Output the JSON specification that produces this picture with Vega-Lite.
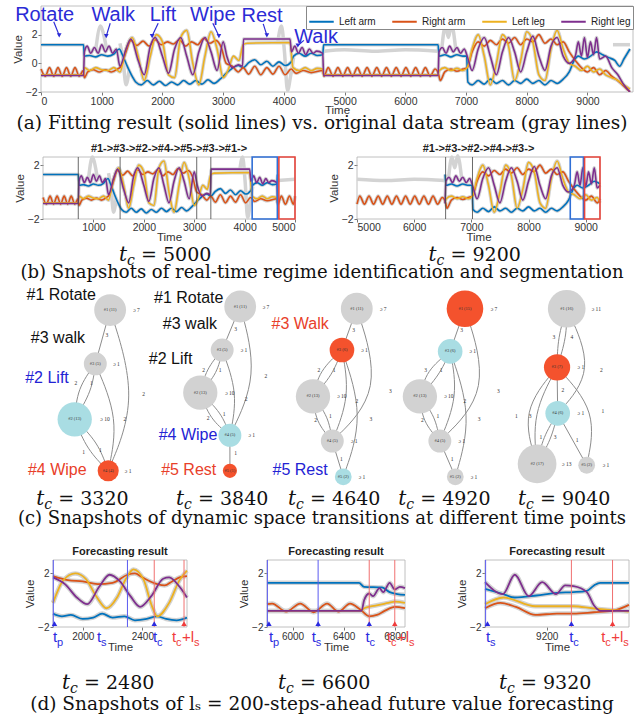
{
"$schema":"https://vega.github.io/schema/vega-lite/v6.json",
"padding":{"left":0,"top":4,"right":0,"bottom":0},
"background":"white",
"config":{"font":"Liberation Sans","view":{"stroke":null},
"axis":{"grid":false,"domain":false,"labelFont":"Liberation Sans","labelFontSize":10.5,"labelColor":"#333","titleFont":"Liberation Sans","titleFontSize":11.5,"titleFontWeight":"normal","titleColor":"#333","tickColor":"#777","tickSize":3,"labelPadding":1,"titlePadding":2,"format":"d"}},
"datasets":{
"main":[
{"s":"LA","t":0,"v":1.3},{"s":"LA","t":700,"v":1.3},{"s":"LA","t":715,"v":0.5},{"s":"LA","t":800,"v":0.55},{"s":"LA","t":900,"v":0.45},{"s":"LA","t":1000,"v":0.6},{"s":"LA","t":1100,"v":0.5},{"s":"LA","t":1200,"v":0.65},{"s":"LA","t":1290,"v":1.0},{"s":"LA","t":1340,"v":0.6},{"s":"LA","t":1420,"v":-0.2},{"s":"LA","t":1500,"v":-0.9},{"s":"LA","t":1560,"v":-1.3},{"s":"LA","t":1650,"v":-1.5},{"s":"LA","t":1750,"v":-1.2},{"s":"LA","t":1850,"v":-1.5},{"s":"LA","t":1950,"v":-1.25},{"s":"LA","t":2050,"v":-1.55},{"s":"LA","t":2150,"v":-1.3},{"s":"LA","t":2250,"v":-1.5},{"s":"LA","t":2350,"v":-1.2},{"s":"LA","t":2450,"v":-1.45},{"s":"LA","t":2550,"v":-1.2},{"s":"LA","t":2650,"v":-1.45},{"s":"LA","t":2750,"v":-1.15},{"s":"LA","t":2850,"v":-1.4},{"s":"LA","t":2950,"v":-1.1},{"s":"LA","t":3050,"v":-0.7},{"s":"LA","t":3150,"v":-0.35},{"s":"LA","t":3250,"v":-0.15},{"s":"LA","t":3330,"v":-0.3},{"s":"LA","t":3420,"v":0.05},{"s":"LA","t":3520,"v":0.25},{"s":"LA","t":3620,"v":-0.1},{"s":"LA","t":3720,"v":0.15},{"s":"LA","t":3820,"v":-0.2},{"s":"LA","t":3920,"v":0.1},{"s":"LA","t":4020,"v":-0.15},{"s":"LA","t":4120,"v":0.1},{"s":"LA","t":4160,"v":0.5},{"s":"LA","t":4250,"v":0.7},{"s":"LA","t":4350,"v":0.5},{"s":"LA","t":4450,"v":0.7},{"s":"LA","t":4550,"v":0.55},{"s":"LA","t":4640,"v":0.6},{"s":"LA","t":4655,"v":1.3},{"s":"LA","t":6540,"v":1.3},{"s":"LA","t":6555,"v":0.5},{"s":"LA","t":6650,"v":0.6},{"s":"LA","t":6750,"v":0.45},{"s":"LA","t":6850,"v":0.6},{"s":"LA","t":6950,"v":0.5},{"s":"LA","t":7010,"v":0.5},{"s":"LA","t":7030,"v":-1.3},{"s":"LA","t":7100,"v":-1.5},{"s":"LA","t":7200,"v":-1.2},{"s":"LA","t":7300,"v":-1.45},{"s":"LA","t":7400,"v":-1.1},{"s":"LA","t":7500,"v":-1.4},{"s":"LA","t":7600,"v":-1.2},{"s":"LA","t":7700,"v":-1.5},{"s":"LA","t":7800,"v":-1.2},{"s":"LA","t":7900,"v":-1.4},{"s":"LA","t":8000,"v":-1.1},{"s":"LA","t":8100,"v":-1.4},{"s":"LA","t":8200,"v":-1.2},{"s":"LA","t":8300,"v":-1.5},{"s":"LA","t":8400,"v":-1.2},{"s":"LA","t":8500,"v":-1.4},{"s":"LA","t":8600,"v":-1.1},{"s":"LA","t":8700,"v":-0.6},{"s":"LA","t":8780,"v":0.2},{"s":"LA","t":8850,"v":0.5},{"s":"LA","t":8950,"v":0.3},{"s":"LA","t":9050,"v":0.5},{"s":"LA","t":9150,"v":0.8},{"s":"LA","t":9250,"v":0.6},{"s":"LA","t":9350,"v":0.4},{"s":"LA","t":9450,"v":0.2},{"s":"LA","t":9530,"v":-0.2},{"s":"LA","t":9600,"v":0.3},{"s":"LA","t":9700,"v":1.0},
{"s":"RA","t":0,"v":-0.4},{"s":"RA","t":70,"v":-0.9},{"s":"RA","t":140,"v":-0.3},{"s":"RA","t":210,"v":-0.9},{"s":"RA","t":280,"v":-0.3},{"s":"RA","t":350,"v":-0.9},{"s":"RA","t":420,"v":-0.3},{"s":"RA","t":490,"v":-0.9},{"s":"RA","t":560,"v":-0.3},{"s":"RA","t":630,"v":-0.9},{"s":"RA","t":695,"v":-0.5},{"s":"RA","t":715,"v":-1.0},{"s":"RA","t":770,"v":-0.6},{"s":"RA","t":860,"v":-0.45},{"s":"RA","t":960,"v":-0.6},{"s":"RA","t":1060,"v":-0.45},{"s":"RA","t":1160,"v":-0.6},{"s":"RA","t":1260,"v":-0.4},{"s":"RA","t":1320,"v":-0.2},{"s":"RA","t":1400,"v":0.8},{"s":"RA","t":1480,"v":1.6},{"s":"RA","t":1580,"v":1.25},{"s":"RA","t":1680,"v":1.55},{"s":"RA","t":1780,"v":1.2},{"s":"RA","t":1880,"v":1.65},{"s":"RA","t":1980,"v":1.3},{"s":"RA","t":2080,"v":1.5},{"s":"RA","t":2180,"v":1.35},{"s":"RA","t":2280,"v":1.65},{"s":"RA","t":2380,"v":1.2},{"s":"RA","t":2480,"v":1.5},{"s":"RA","t":2580,"v":1.3},{"s":"RA","t":2680,"v":1.75},{"s":"RA","t":2780,"v":1.4},{"s":"RA","t":2880,"v":1.6},{"s":"RA","t":2970,"v":1.1},{"s":"RA","t":3050,"v":0.0},{"s":"RA","t":3150,"v":-0.2},{"s":"RA","t":3250,"v":-0.6},{"s":"RA","t":3330,"v":-0.3},{"s":"RA","t":3420,"v":-0.75},{"s":"RA","t":3520,"v":-0.2},{"s":"RA","t":3620,"v":-0.8},{"s":"RA","t":3720,"v":-0.3},{"s":"RA","t":3820,"v":-0.75},{"s":"RA","t":3920,"v":-0.2},{"s":"RA","t":4020,"v":-0.8},{"s":"RA","t":4120,"v":-0.4},{"s":"RA","t":4200,"v":-0.7},{"s":"RA","t":4320,"v":-0.5},{"s":"RA","t":4450,"v":-0.65},{"s":"RA","t":4640,"v":-0.5},{"s":"RA","t":4660,"v":-0.9},{"s":"RA","t":4730,"v":-0.3},{"s":"RA","t":4810,"v":-0.9},{"s":"RA","t":4890,"v":-0.3},{"s":"RA","t":4970,"v":-0.9},{"s":"RA","t":5050,"v":-0.3},{"s":"RA","t":5130,"v":-0.9},{"s":"RA","t":5210,"v":-0.3},{"s":"RA","t":5290,"v":-0.9},{"s":"RA","t":5370,"v":-0.3},{"s":"RA","t":5450,"v":-0.9},{"s":"RA","t":5530,"v":-0.3},{"s":"RA","t":5610,"v":-0.9},{"s":"RA","t":5690,"v":-0.3},{"s":"RA","t":5770,"v":-0.9},{"s":"RA","t":5850,"v":-0.3},{"s":"RA","t":5930,"v":-0.9},{"s":"RA","t":6010,"v":-0.3},{"s":"RA","t":6090,"v":-0.9},{"s":"RA","t":6170,"v":-0.3},{"s":"RA","t":6250,"v":-0.9},{"s":"RA","t":6330,"v":-0.3},{"s":"RA","t":6410,"v":-0.9},{"s":"RA","t":6490,"v":-0.4},{"s":"RA","t":6550,"v":-0.8},{"s":"RA","t":6575,"v":-1.2},{"s":"RA","t":6650,"v":-0.6},{"s":"RA","t":6750,"v":-0.4},{"s":"RA","t":6850,"v":-0.55},{"s":"RA","t":6950,"v":-0.4},{"s":"RA","t":7020,"v":-0.3},{"s":"RA","t":7100,"v":0.8},{"s":"RA","t":7200,"v":1.5},{"s":"RA","t":7300,"v":1.2},{"s":"RA","t":7400,"v":1.6},{"s":"RA","t":7500,"v":1.3},{"s":"RA","t":7600,"v":1.7},{"s":"RA","t":7700,"v":1.4},{"s":"RA","t":7800,"v":1.8},{"s":"RA","t":7900,"v":1.3},{"s":"RA","t":8000,"v":1.7},{"s":"RA","t":8100,"v":1.5},{"s":"RA","t":8200,"v":2.0},{"s":"RA","t":8300,"v":1.4},{"s":"RA","t":8400,"v":1.7},{"s":"RA","t":8500,"v":1.3},{"s":"RA","t":8600,"v":1.5},{"s":"RA","t":8700,"v":0.8},{"s":"RA","t":8800,"v":0.2},{"s":"RA","t":8900,"v":-0.3},{"s":"RA","t":9000,"v":-0.6},{"s":"RA","t":9100,"v":-0.3},{"s":"RA","t":9200,"v":-0.8},{"s":"RA","t":9300,"v":-0.5},{"s":"RA","t":9400,"v":-0.9},{"s":"RA","t":9500,"v":-1.2},{"s":"RA","t":9600,"v":-1.6},{"s":"RA","t":9700,"v":-2.0},
{"s":"LL","t":0,"v":-0.8},{"s":"LL","t":700,"v":-0.8},{"s":"LL","t":715,"v":-0.3},{"s":"LL","t":800,"v":-0.5},{"s":"LL","t":900,"v":-0.3},{"s":"LL","t":1000,"v":-0.45},{"s":"LL","t":1100,"v":-0.5},{"s":"LL","t":1200,"v":-0.3},{"s":"LL","t":1300,"v":-0.6},{"s":"LL","t":1400,"v":1.0},{"s":"LL","t":1500,"v":1.8},{"s":"LL","t":1600,"v":0.5},{"s":"LL","t":1700,"v":-1.2},{"s":"LL","t":1800,"v":0.5},{"s":"LL","t":1900,"v":2.0},{"s":"LL","t":2000,"v":1.5},{"s":"LL","t":2100,"v":-0.8},{"s":"LL","t":2200,"v":-1.0},{"s":"LL","t":2300,"v":1.8},{"s":"LL","t":2400,"v":2.3},{"s":"LL","t":2500,"v":0.0},{"s":"LL","t":2600,"v":-1.5},{"s":"LL","t":2700,"v":0.5},{"s":"LL","t":2800,"v":2.2},{"s":"LL","t":2900,"v":1.0},{"s":"LL","t":3000,"v":-1.0},{"s":"LL","t":3080,"v":-0.5},{"s":"LL","t":3170,"v":0.5},{"s":"LL","t":3260,"v":0.2},{"s":"LL","t":3330,"v":1.3},{"s":"LL","t":3400,"v":1.4},{"s":"LL","t":4100,"v":1.45},{"s":"LL","t":4150,"v":-0.3},{"s":"LL","t":4250,"v":-0.5},{"s":"LL","t":4350,"v":-0.3},{"s":"LL","t":4450,"v":-0.5},{"s":"LL","t":4550,"v":-0.35},{"s":"LL","t":4640,"v":-0.4},{"s":"LL","t":4655,"v":-0.8},{"s":"LL","t":6540,"v":-0.8},{"s":"LL","t":6560,"v":-0.5},{"s":"LL","t":6650,"v":-0.3},{"s":"LL","t":6750,"v":-0.5},{"s":"LL","t":6850,"v":-0.35},{"s":"LL","t":6950,"v":-0.5},{"s":"LL","t":7020,"v":-0.3},{"s":"LL","t":7100,"v":1.0},{"s":"LL","t":7200,"v":2.0},{"s":"LL","t":7300,"v":0.5},{"s":"LL","t":7400,"v":-1.5},{"s":"LL","t":7500,"v":0.0},{"s":"LL","t":7600,"v":2.0},{"s":"LL","t":7700,"v":1.2},{"s":"LL","t":7800,"v":-1.2},{"s":"LL","t":7900,"v":0.2},{"s":"LL","t":8000,"v":2.2},{"s":"LL","t":8100,"v":1.5},{"s":"LL","t":8200,"v":-0.8},{"s":"LL","t":8300,"v":-1.2},{"s":"LL","t":8400,"v":1.0},{"s":"LL","t":8500,"v":2.3},{"s":"LL","t":8600,"v":1.0},{"s":"LL","t":8700,"v":0.0},{"s":"LL","t":8800,"v":-0.2},{"s":"LL","t":8900,"v":-0.5},{"s":"LL","t":9000,"v":-0.2},{"s":"LL","t":9100,"v":-0.6},{"s":"LL","t":9200,"v":-0.4},{"s":"LL","t":9300,"v":-0.8},{"s":"LL","t":9400,"v":-1.0},{"s":"LL","t":9500,"v":-1.2},{"s":"LL","t":9600,"v":-1.5},{"s":"LL","t":9700,"v":-1.8},
{"s":"RL","t":0,"v":-0.85},{"s":"RL","t":700,"v":-0.85},{"s":"RL","t":715,"v":0.8},{"s":"RL","t":760,"v":1.2},{"s":"RL","t":820,"v":0.7},{"s":"RL","t":880,"v":1.1},{"s":"RL","t":940,"v":0.7},{"s":"RL","t":1000,"v":1.3},{"s":"RL","t":1060,"v":0.8},{"s":"RL","t":1120,"v":1.2},{"s":"RL","t":1180,"v":0.7},{"s":"RL","t":1240,"v":1.0},{"s":"RL","t":1300,"v":-0.2},{"s":"RL","t":1400,"v":1.0},{"s":"RL","t":1480,"v":1.7},{"s":"RL","t":1600,"v":0.2},{"s":"RL","t":1700,"v":-0.8},{"s":"RL","t":1800,"v":1.2},{"s":"RL","t":1880,"v":1.8},{"s":"RL","t":2000,"v":0.5},{"s":"RL","t":2100,"v":-0.7},{"s":"RL","t":2200,"v":1.0},{"s":"RL","t":2300,"v":1.8},{"s":"RL","t":2400,"v":0.5},{"s":"RL","t":2500,"v":-0.8},{"s":"RL","t":2600,"v":0.8},{"s":"RL","t":2700,"v":1.8},{"s":"RL","t":2800,"v":0.8},{"s":"RL","t":2900,"v":-0.5},{"s":"RL","t":3000,"v":1.5},{"s":"RL","t":3060,"v":0.5},{"s":"RL","t":3150,"v":-0.3},{"s":"RL","t":3250,"v":-0.1},{"s":"RL","t":3320,"v":-0.2},{"s":"RL","t":3335,"v":1.7},{"s":"RL","t":4100,"v":1.7},{"s":"RL","t":4125,"v":0.8},{"s":"RL","t":4180,"v":1.2},{"s":"RL","t":4240,"v":0.7},{"s":"RL","t":4300,"v":1.1},{"s":"RL","t":4360,"v":0.6},{"s":"RL","t":4420,"v":1.0},{"s":"RL","t":4480,"v":0.7},{"s":"RL","t":4540,"v":0.85},{"s":"RL","t":4640,"v":0.7},{"s":"RL","t":4655,"v":-0.85},{"s":"RL","t":6540,"v":-0.85},{"s":"RL","t":6555,"v":0.8},{"s":"RL","t":6610,"v":1.1},{"s":"RL","t":6670,"v":0.7},{"s":"RL","t":6730,"v":1.2},{"s":"RL","t":6790,"v":0.8},{"s":"RL","t":6850,"v":1.1},{"s":"RL","t":6910,"v":0.7},{"s":"RL","t":6970,"v":1.0},{"s":"RL","t":7020,"v":0.5},{"s":"RL","t":7100,"v":-0.5},{"s":"RL","t":7200,"v":1.0},{"s":"RL","t":7300,"v":1.8},{"s":"RL","t":7400,"v":0.5},{"s":"RL","t":7500,"v":-0.8},{"s":"RL","t":7600,"v":0.8},{"s":"RL","t":7700,"v":1.8},{"s":"RL","t":7800,"v":0.8},{"s":"RL","t":7900,"v":-0.6},{"s":"RL","t":8000,"v":0.8},{"s":"RL","t":8100,"v":1.9},{"s":"RL","t":8200,"v":0.5},{"s":"RL","t":8300,"v":-0.5},{"s":"RL","t":8400,"v":1.2},{"s":"RL","t":8500,"v":1.8},{"s":"RL","t":8600,"v":0.5},{"s":"RL","t":8700,"v":0.0},{"s":"RL","t":8800,"v":0.5},{"s":"RL","t":8850,"v":1.5},{"s":"RL","t":8900,"v":0.5},{"s":"RL","t":8950,"v":1.8},{"s":"RL","t":9000,"v":0.4},{"s":"RL","t":9050,"v":1.5},{"s":"RL","t":9100,"v":0.6},{"s":"RL","t":9150,"v":1.8},{"s":"RL","t":9200,"v":0.3},{"s":"RL","t":9300,"v":0.5},{"s":"RL","t":9400,"v":-0.3},{"s":"RL","t":9500,"v":-0.8},{"s":"RL","t":9600,"v":-1.5},{"s":"RL","t":9700,"v":-2.0}
],
"gx":[
{"g":"a","t":4660,"v":0.85},{"g":"a","t":5000,"v":0.95},{"g":"a","t":5500,"v":0.85},{"g":"a","t":6000,"v":0.95},{"g":"a","t":6540,"v":0.85},
{"g":"b","t":900,"v":0.9},{"g":"b","t":980,"v":2.6},{"g":"b","t":1020,"v":2.2},{"g":"b","t":1080,"v":1.0},
{"g":"c","t":3900,"v":1.5},{"g":"c","t":3960,"v":2.6},{"g":"c","t":4010,"v":0.8},{"g":"c","t":4060,"v":-1.9},{"g":"c","t":4110,"v":-0.9},{"g":"c","t":4160,"v":0.4},
{"g":"d","t":6600,"v":1.0},{"g":"d","t":6660,"v":2.6},{"g":"d","t":6710,"v":1.8},{"g":"d","t":6760,"v":2.7},{"g":"d","t":6830,"v":1.0},
{"g":"e","t":9420,"v":1.3},{"g":"e","t":9700,"v":1.3},
{"g":"f","t":1300,"v":1.4},{"g":"f","t":1350,"v":0.3},{"g":"f","t":1400,"v":-1.5},{"g":"f","t":1450,"v":-0.5}
],
"ann":[
{"label":"Rotate","lx":60,"ly":3.4,"ax":210,"ay":2.9,"bx":300,"by":1.95},
{"label":"Walk","lx":1190,"ly":3.4,"ax":1140,"ay":2.8,"bx":1075,"by":1.9},
{"label":"Lift","lx":2010,"ly":3.4,"ax":1930,"ay":2.8,"bx":1830,"by":1.9},
{"label":"Wipe","lx":2830,"ly":3.4,"ax":2830,"ay":2.8,"bx":2930,"by":1.9},
{"label":"Rest","lx":3640,"ly":3.3,"ax":3660,"ay":2.75,"bx":3720,"by":1.95},
{"label":"Walk","lx":4530,"ly":1.85,"ax":4330,"ay":1.6,"bx":4230,"by":1.25}
],
"fc":[
{"p":"d1","s":"LA","t":1800,"v":-1.0},{"p":"d1","s":"LA","t":1860,"v":-1.2},{"p":"d1","s":"LA","t":1920,"v":-1.1},{"p":"d1","s":"LA","t":2000,"v":-1.4},{"p":"d1","s":"LA","t":2070,"v":-1.3},{"p":"d1","s":"LA","t":2130,"v":-1.0},{"p":"d1","s":"LA","t":2200,"v":-1.3},{"p":"d1","s":"LA","t":2280,"v":-1.2},{"p":"d1","s":"LA","t":2350,"v":-1.5},{"p":"d1","s":"LA","t":2430,"v":-1.4},{"p":"d1","s":"LA","t":2500,"v":-1.2},{"p":"d1","s":"LA","t":2560,"v":-1.4},{"p":"d1","s":"LA","t":2630,"v":-1.5},{"p":"d1","s":"LA","t":2700,"v":-1.3},
{"p":"d1","s":"RA","t":1800,"v":1.8},{"p":"d1","s":"RA","t":1900,"v":1.5},{"p":"d1","s":"RA","t":2000,"v":1.4},{"p":"d1","s":"RA","t":2100,"v":1.2},{"p":"d1","s":"RA","t":2200,"v":1.3},{"p":"d1","s":"RA","t":2300,"v":1.9},{"p":"d1","s":"RA","t":2350,"v":2.0},{"p":"d1","s":"RA","t":2400,"v":1.7},{"p":"d1","s":"RA","t":2500,"v":1.2},{"p":"d1","s":"RA","t":2550,"v":1.1},{"p":"d1","s":"RA","t":2600,"v":1.4},{"p":"d1","s":"RA","t":2650,"v":1.7},{"p":"d1","s":"RA","t":2700,"v":1.8},
{"p":"d1","s":"LL","t":1800,"v":-0.2},{"p":"d1","s":"LL","t":1870,"v":1.5},{"p":"d1","s":"LL","t":1950,"v":2.0},{"p":"d1","s":"LL","t":2020,"v":1.6},{"p":"d1","s":"LL","t":2090,"v":0.3},{"p":"d1","s":"LL","t":2160,"v":-0.6},{"p":"d1","s":"LL","t":2230,"v":0.2},{"p":"d1","s":"LL","t":2290,"v":1.6},{"p":"d1","s":"LL","t":2340,"v":2.3},{"p":"d1","s":"LL","t":2410,"v":1.5},{"p":"d1","s":"LL","t":2460,"v":-0.3},{"p":"d1","s":"LL","t":2500,"v":-1.2},{"p":"d1","s":"LL","t":2580,"v":-0.2},{"p":"d1","s":"LL","t":2650,"v":1.5},{"p":"d1","s":"LL","t":2700,"v":2.2},
{"p":"d1","s":"RL","t":1800,"v":1.7},{"p":"d1","s":"RL","t":1880,"v":1.2},{"p":"d1","s":"RL","t":1960,"v":0.2},{"p":"d1","s":"RL","t":2030,"v":-0.3},{"p":"d1","s":"RL","t":2110,"v":1.0},{"p":"d1","s":"RL","t":2180,"v":1.9},{"p":"d1","s":"RL","t":2250,"v":1.4},{"p":"d1","s":"RL","t":2320,"v":0.3},{"p":"d1","s":"RL","t":2385,"v":-0.5},{"p":"d1","s":"RL","t":2460,"v":0.3},{"p":"d1","s":"RL","t":2540,"v":1.6},{"p":"d1","s":"RL","t":2580,"v":1.7},{"p":"d1","s":"RL","t":2650,"v":1.0},{"p":"d1","s":"RL","t":2700,"v":0.2},
{"p":"d2","s":"LA","t":5800,"v":1.3},{"p":"d2","s":"LA","t":6520,"v":1.3},{"p":"d2","s":"LA","t":6560,"v":1.0},{"p":"d2","s":"LA","t":6700,"v":0.95},{"p":"d2","s":"LA","t":6760,"v":0.6},{"p":"d2","s":"LA","t":6820,"v":0.45},{"p":"d2","s":"LA","t":6880,"v":0.4},
{"p":"d2","s":"RA","t":5800,"v":-0.3},{"p":"d2","s":"RA","t":5840,"v":-0.25},{"p":"d2","s":"RA","t":5950,"v":-0.85},{"p":"d2","s":"RA","t":6060,"v":-0.25},{"p":"d2","s":"RA","t":6165,"v":-0.9},{"p":"d2","s":"RA","t":6270,"v":-0.25},{"p":"d2","s":"RA","t":6360,"v":-0.85},{"p":"d2","s":"RA","t":6450,"v":-0.25},{"p":"d2","s":"RA","t":6530,"v":-0.7},{"p":"d2","s":"RA","t":6600,"v":-1.2},{"p":"d2","s":"RA","t":6660,"v":-1.1},{"p":"d2","s":"RA","t":6720,"v":-0.8},{"p":"d2","s":"RA","t":6800,"v":-0.5},{"p":"d2","s":"RA","t":6880,"v":-0.6},
{"p":"d2","s":"LL","t":5800,"v":-0.8},{"p":"d2","s":"LL","t":6540,"v":-0.8},{"p":"d2","s":"LL","t":6560,"v":-0.6},{"p":"d2","s":"LL","t":6650,"v":-0.4},{"p":"d2","s":"LL","t":6750,"v":-0.2},{"p":"d2","s":"LL","t":6800,"v":-0.1},{"p":"d2","s":"LL","t":6880,"v":-0.2},
{"p":"d2","s":"RL","t":5800,"v":-0.8},{"p":"d2","s":"RL","t":6540,"v":-0.8},{"p":"d2","s":"RL","t":6560,"v":0.0},{"p":"d2","s":"RL","t":6600,"v":0.5},{"p":"d2","s":"RL","t":6630,"v":0.3},{"p":"d2","s":"RL","t":6680,"v":0.9},{"p":"d2","s":"RL","t":6710,"v":0.6},{"p":"d2","s":"RL","t":6760,"v":1.3},{"p":"d2","s":"RL","t":6800,"v":0.8},{"p":"d2","s":"RL","t":6840,"v":1.0},{"p":"d2","s":"RL","t":6880,"v":0.9},
{"p":"d3","s":"LA","t":8900,"v":0.85},{"p":"d3","s":"LA","t":8980,"v":0.5},{"p":"d3","s":"LA","t":9045,"v":0.2},{"p":"d3","s":"LA","t":9150,"v":0.35},{"p":"d3","s":"LA","t":9250,"v":0.55},{"p":"d3","s":"LA","t":9330,"v":0.6},{"p":"d3","s":"LA","t":9395,"v":0.7},{"p":"d3","s":"LA","t":9430,"v":1.1},{"p":"d3","s":"LA","t":9460,"v":1.3},{"p":"d3","s":"LA","t":9600,"v":1.3},
{"p":"d3","s":"RA","t":8900,"v":-0.6},{"p":"d3","s":"RA","t":8975,"v":-0.2},{"p":"d3","s":"RA","t":9050,"v":-0.5},{"p":"d3","s":"RA","t":9145,"v":-1.1},{"p":"d3","s":"RA","t":9250,"v":-1.0},{"p":"d3","s":"RA","t":9330,"v":-1.0},{"p":"d3","s":"RA","t":9430,"v":-0.9},{"p":"d3","s":"RA","t":9520,"v":-0.8},{"p":"d3","s":"RA","t":9600,"v":-0.35},
{"p":"d3","s":"LL","t":8900,"v":-0.3},{"p":"d3","s":"LL","t":8990,"v":0.2},{"p":"d3","s":"LL","t":9145,"v":-0.45},{"p":"d3","s":"LL","t":9330,"v":-0.45},{"p":"d3","s":"LL","t":9420,"v":-0.6},{"p":"d3","s":"LL","t":9600,"v":-0.85},
{"p":"d3","s":"RL","t":8900,"v":1.35},{"p":"d3","s":"RL","t":8987,"v":0.45},{"p":"d3","s":"RL","t":9045,"v":1.9},{"p":"d3","s":"RL","t":9112,"v":0.3},{"p":"d3","s":"RL","t":9178,"v":1.35},{"p":"d3","s":"RL","t":9245,"v":0.45},{"p":"d3","s":"RL","t":9290,"v":1.1},{"p":"d3","s":"RL","t":9330,"v":1.05},{"p":"d3","s":"RL","t":9395,"v":0.6},{"p":"d3","s":"RL","t":9430,"v":-0.4},{"p":"d3","s":"RL","t":9462,"v":-0.8},{"p":"d3","s":"RL","t":9600,"v":-0.8}
],
"nodes":[
{"id":"#1 (11)","x":17.1,"y":11.3,"n":11,"st":"none"},{"id":"#3 (5)","x":14.8,"y":35.5,"n":5,"st":"none"},{"id":"#2 (13)","x":11.6,"y":60.5,"n":13,"st":"next"},{"id":"#4 (4)","x":16.8,"y":83.7,"n":4,"st":"cur"},
{"id":"#1 (11)","x":37.3,"y":9.7,"n":11,"st":"none"},{"id":"#3 (5)","x":34.5,"y":29.3,"n":5,"st":"none"},{"id":"#2 (13)","x":31.1,"y":48.5,"n":13,"st":"none"},{"id":"#4 (5)","x":35.7,"y":67.7,"n":5,"st":"next"},{"id":"#5 (1)","x":35.7,"y":83.7,"n":1,"st":"cur"},
{"id":"#1 (11)","x":55.4,"y":10.7,"n":11,"st":"none"},{"id":"#3 (6)","x":53.1,"y":29.3,"n":6,"st":"cur"},{"id":"#2 (13)","x":48.6,"y":50.2,"n":13,"st":"none"},{"id":"#4 (5)","x":51.6,"y":70.3,"n":5,"st":"none"},{"id":"#5 (2)","x":53.3,"y":86.4,"n":2,"st":"next"},
{"id":"#1 (15)","x":72.2,"y":10.7,"n":15,"st":"cur"},{"id":"#3 (6)","x":69.9,"y":29.9,"n":6,"st":"next"},{"id":"#2 (13)","x":65.2,"y":50.2,"n":13,"st":"none"},{"id":"#4 (5)","x":68.3,"y":70.3,"n":5,"st":"none"},{"id":"#5 (2)","x":70.7,"y":86.4,"n":2,"st":"none"},
{"id":"#1 (16)","x":88.0,"y":10.7,"n":16,"st":"none"},{"id":"#3 (7)","x":86.5,"y":37.1,"n":7,"st":"cur"},{"id":"#4 (6)","x":86.6,"y":57.8,"n":6,"st":"next"},{"id":"#2 (17)","x":83.4,"y":80.6,"n":17,"st":"none"},{"id":"#5 (2)","x":91.1,"y":81.2,"n":2,"st":"none"}
],
"edges":[
{"e":"1a","o":0,"x":17.1,"y":11.3},{"e":"1a","o":1,"x":14.8,"y":35.5},
{"e":"1b","o":0,"x":17.1,"y":11.3},{"e":"1b","o":1,"x":21.5,"y":51.2},{"e":"1b","o":2,"x":16.8,"y":83.7},
{"e":"1c","o":0,"x":14.8,"y":35.5},{"e":"1c","o":1,"x":12.0,"y":46.6},{"e":"1c","o":2,"x":11.6,"y":60.5},
{"e":"1d","o":0,"x":14.8,"y":35.5},{"e":"1d","o":1,"x":14.3,"y":47.7},{"e":"1d","o":2,"x":11.6,"y":60.5},
{"e":"1e","o":0,"x":14.8,"y":35.5},{"e":"1e","o":1,"x":18.5,"y":60.4},{"e":"1e","o":2,"x":16.8,"y":83.7},
{"e":"1f","o":0,"x":11.6,"y":60.5},{"e":"1f","o":1,"x":13.5,"y":74.2},{"e":"1f","o":2,"x":16.8,"y":83.7},
{"e":"1g","o":0,"x":11.6,"y":60.5},{"e":"1g","o":1,"x":15.2,"y":70.7},{"e":"1g","o":2,"x":16.8,"y":83.7},
{"e":"2a","o":0,"x":37.3,"y":9.7},{"e":"2a","o":1,"x":34.5,"y":29.3},
{"e":"2b","o":0,"x":37.3,"y":9.7},{"e":"2b","o":1,"x":40.2,"y":40.8},{"e":"2b","o":2,"x":35.7,"y":67.7},
{"e":"2c","o":0,"x":34.5,"y":29.3},{"e":"2c","o":1,"x":32.0,"y":37.9},{"e":"2c","o":2,"x":31.1,"y":48.5},
{"e":"2d","o":0,"x":34.5,"y":29.3},{"e":"2d","o":1,"x":33.8,"y":39.7},{"e":"2d","o":2,"x":31.1,"y":48.5},
{"e":"2e","o":0,"x":34.5,"y":29.3},{"e":"2e","o":1,"x":37.0,"y":48.9},{"e":"2e","o":2,"x":35.7,"y":67.7},
{"e":"2f","o":0,"x":31.1,"y":48.5},{"e":"2f","o":1,"x":32.6,"y":60.4},{"e":"2f","o":2,"x":35.7,"y":67.7},
{"e":"2g","o":0,"x":31.1,"y":48.5},{"e":"2g","o":1,"x":34.4,"y":57.5},{"e":"2g","o":2,"x":35.7,"y":67.7},
{"e":"2h","o":0,"x":35.7,"y":67.7},{"e":"2h","o":1,"x":35.7,"y":83.7},
{"e":"3a","o":0,"x":55.4,"y":10.7},{"e":"3a","o":1,"x":53.1,"y":29.3},
{"e":"3b","o":0,"x":55.4,"y":10.7},{"e":"3b","o":1,"x":59.5,"y":47.7},{"e":"3b","o":2,"x":51.6,"y":70.3},
{"e":"3c","o":0,"x":53.1,"y":29.3},{"e":"3c","o":1,"x":49.6,"y":38.5},{"e":"3c","o":2,"x":48.6,"y":50.2},
{"e":"3d","o":0,"x":53.1,"y":29.3},{"e":"3d","o":1,"x":51.6,"y":40.8},{"e":"3d","o":2,"x":48.6,"y":50.2},
{"e":"3e","o":0,"x":53.1,"y":29.3},{"e":"3e","o":1,"x":54.4,"y":50.0},{"e":"3e","o":2,"x":51.6,"y":70.3},
{"e":"3f","o":0,"x":53.1,"y":29.3},{"e":"3f","o":1,"x":56.6,"y":59.2},{"e":"3f","o":2,"x":53.3,"y":86.4},
{"e":"3g","o":0,"x":48.6,"y":50.2},{"e":"3g","o":1,"x":49.0,"y":61.5},{"e":"3g","o":2,"x":51.6,"y":70.3},
{"e":"3h","o":0,"x":48.6,"y":50.2},{"e":"3h","o":1,"x":51.0,"y":59.2},{"e":"3h","o":2,"x":51.6,"y":70.3},
{"e":"3i","o":0,"x":51.6,"y":70.3},{"e":"3i","o":1,"x":53.3,"y":86.4},
{"e":"4a","o":0,"x":72.2,"y":10.7},{"e":"4a","o":1,"x":69.9,"y":29.9},
{"e":"4b","o":0,"x":72.2,"y":10.7},{"e":"4b","o":1,"x":76.3,"y":47.7},{"e":"4b","o":2,"x":68.3,"y":70.3},
{"e":"4c","o":0,"x":69.9,"y":29.9},{"e":"4c","o":1,"x":66.2,"y":38.5},{"e":"4c","o":2,"x":65.2,"y":50.2},
{"e":"4d","o":0,"x":69.9,"y":29.9},{"e":"4d","o":1,"x":68.2,"y":40.8},{"e":"4d","o":2,"x":65.2,"y":50.2},
{"e":"4e","o":0,"x":69.9,"y":29.9},{"e":"4e","o":1,"x":71.2,"y":50.0},{"e":"4e","o":2,"x":68.3,"y":70.3},
{"e":"4f","o":0,"x":69.9,"y":29.9},{"e":"4f","o":1,"x":73.4,"y":59.2},{"e":"4f","o":2,"x":70.7,"y":86.4},
{"e":"4g","o":0,"x":65.2,"y":50.2},{"e":"4g","o":1,"x":65.6,"y":61.5},{"e":"4g","o":2,"x":68.3,"y":70.3},
{"e":"4h","o":0,"x":65.2,"y":50.2},{"e":"4h","o":1,"x":67.6,"y":59.2},{"e":"4h","o":2,"x":68.3,"y":70.3},
{"e":"4i","o":0,"x":68.3,"y":70.3},{"e":"4i","o":1,"x":70.7,"y":86.4},
{"e":"5a","o":0,"x":88.0,"y":10.7},{"e":"5a","o":1,"x":86.6,"y":23.6},{"e":"5a","o":2,"x":86.5,"y":37.1},
{"e":"5b","o":0,"x":88.0,"y":10.7},{"e":"5b","o":1,"x":88.0,"y":23.6},{"e":"5b","o":2,"x":86.5,"y":37.1},
{"e":"5c","o":0,"x":88.0,"y":10.7},{"e":"5c","o":1,"x":92.5,"y":38.5},{"e":"5c","o":2,"x":86.6,"y":57.8},
{"e":"5d","o":0,"x":86.5,"y":37.1},{"e":"5d","o":1,"x":86.6,"y":57.8},
{"e":"5e","o":0,"x":86.5,"y":37.1},{"e":"5e","o":1,"x":80.8,"y":56.9},{"e":"5e","o":2,"x":83.4,"y":80.6},
{"e":"5f","o":0,"x":86.5,"y":37.1},{"e":"5f","o":1,"x":82.6,"y":58.1},{"e":"5f","o":2,"x":83.4,"y":80.6},
{"e":"5g","o":0,"x":86.5,"y":37.1},{"e":"5g","o":1,"x":92.8,"y":56.9},{"e":"5g","o":2,"x":91.1,"y":81.2},
{"e":"5h","o":0,"x":86.6,"y":57.8},{"e":"5h","o":1,"x":84.3,"y":68.4},{"e":"5h","o":2,"x":83.4,"y":80.6},
{"e":"5i","o":0,"x":86.6,"y":57.8},{"e":"5i","o":1,"x":85.6,"y":69.6},{"e":"5i","o":2,"x":83.4,"y":80.6},
{"e":"5j","o":0,"x":86.6,"y":57.8},{"e":"5j","o":1,"x":91.1,"y":81.2}
],
"elab":[
{"x":21.2,"y":11.3,"txt":"ɔ 7"},{"x":18.1,"y":35.5,"txt":"ɔ 1"},{"x":16.3,"y":60.5,"txt":"ɔ 10"},{"x":19.9,"y":83.7,"txt":"ɔ 1"},
{"x":16.6,"y":22.4,"txt":"3"},{"x":11.8,"y":44.3,"txt":"2"},{"x":14.2,"y":44.3,"txt":"1"},{"x":22.3,"y":48.9,"txt":"2"},{"x":19.4,"y":60.4,"txt":"2"},{"x":13.0,"y":75.3,"txt":"1"},{"x":15.6,"y":74.2,"txt":"1"},
{"x":41.3,"y":9.7,"txt":"ɔ 7"},{"x":37.9,"y":29.3,"txt":"ɔ 1"},{"x":35.7,"y":48.5,"txt":"ɔ 10"},{"x":39.1,"y":67.7,"txt":"ɔ 1"},
{"x":36.6,"y":19.6,"txt":"3"},{"x":41.3,"y":40.8,"txt":"2"},{"x":31.6,"y":38.5,"txt":"2"},{"x":34.2,"y":38.5,"txt":"1"},{"x":38.2,"y":51.2,"txt":"2"},{"x":32.3,"y":59.8,"txt":"2"},{"x":34.8,"y":58.1,"txt":"1"},{"x":36.6,"y":75.9,"txt":"1"},
{"x":59.5,"y":10.7,"txt":"ɔ 7"},{"x":56.6,"y":29.3,"txt":"ɔ 1"},{"x":53.1,"y":50.2,"txt":"ɔ 10"},{"x":55.0,"y":70.3,"txt":"ɔ 1"},{"x":56.2,"y":86.4,"txt":"ɔ 1"},
{"x":54.9,"y":20.1,"txt":"3"},{"x":60.6,"y":47.7,"txt":"3"},{"x":49.5,"y":38.5,"txt":"2"},{"x":51.9,"y":38.5,"txt":"1"},{"x":55.4,"y":52.3,"txt":"2"},{"x":57.6,"y":60.4,"txt":"3"},{"x":49.0,"y":61.0,"txt":"2"},{"x":51.3,"y":59.2,"txt":"1"},{"x":53.0,"y":78.2,"txt":"1"},
{"x":76.7,"y":10.7,"txt":"ɔ 7"},{"x":73.4,"y":29.9,"txt":"ɔ 1"},{"x":69.7,"y":50.2,"txt":"ɔ 10"},{"x":71.7,"y":70.3,"txt":"ɔ 1"},{"x":73.6,"y":86.4,"txt":"ɔ 1"},
{"x":71.7,"y":20.1,"txt":"3"},{"x":77.4,"y":47.7,"txt":"3"},{"x":66.1,"y":38.5,"txt":"3"},{"x":68.5,"y":38.5,"txt":"1"},{"x":72.2,"y":52.3,"txt":"2"},{"x":74.4,"y":60.4,"txt":"3"},{"x":65.6,"y":61.0,"txt":"2"},{"x":68.0,"y":59.2,"txt":"1"},{"x":70.2,"y":78.2,"txt":"1"},
{"x":92.6,"y":10.7,"txt":"ɔ 11"},{"x":90.2,"y":37.1,"txt":"ɔ 1"},{"x":90.2,"y":57.8,"txt":"ɔ 1"},{"x":88.0,"y":80.6,"txt":"ɔ 13"},{"x":94.1,"y":81.2,"txt":"ɔ 1"},
{"x":86.0,"y":23.6,"txt":"3"},{"x":88.8,"y":23.6,"txt":"4"},{"x":93.4,"y":38.5,"txt":"2"},{"x":87.4,"y":47.2,"txt":"2"},{"x":80.2,"y":59.2,"txt":"1"},{"x":82.3,"y":59.2,"txt":"3"},{"x":93.6,"y":56.9,"txt":"1"},{"x":84.0,"y":68.4,"txt":"1"},{"x":86.2,"y":68.4,"txt":"3"},{"x":89.6,"y":69.6,"txt":"1"}
],
"glab":[
{"x":9.5,"y":4.5,"txt":"#1 Rotate","k":"none"},{"x":9.0,"y":23.9,"txt":"#3 walk","k":"none"},{"x":7.3,"y":41.9,"txt":"#2 Lift","k":"next"},{"x":8.9,"y":83.3,"txt":"#4 Wipe","k":"cur"},
{"x":29.3,"y":5.9,"txt":"#1 Rotate","k":"none"},{"x":29.5,"y":17.6,"txt":"#3 walk","k":"none"},{"x":26.5,"y":33.3,"txt":"#2 Lift","k":"none"},{"x":29.2,"y":67.6,"txt":"#4 Wipe","k":"next"},{"x":29.3,"y":83.3,"txt":"#5 Rest","k":"cur"},
{"x":46.6,"y":17.6,"txt":"#3 Walk","k":"cur"},{"x":46.6,"y":83.3,"txt":"#5 Rest","k":"next"}
],
"gtc":[
{"x":13.4,"y":96.4,"n":"= 3320"},{"x":35.1,"y":96.4,"n":"= 3840"},{"x":52.5,"y":96.4,"n":"= 4640"},{"x":69.6,"y":96.4,"n":"= 4920"},{"x":88.2,"y":96.4,"n":"= 9040"}
]
},
"resolve":{"scale":{"color":"independent","fill":"independent","stroke":"independent","size":"independent"},"legend":{"color":"independent","fill":"independent","stroke":"independent","size":"independent"}},
"spacing":0,
"bounds":"flush",
"vconcat":[
{"width":633,"height":86,
 "layer":[
  {"data":{"values":[{}]},"mark":{"type":"rect","filled":false,"stroke":"#b0b0b0","strokeWidth":0.8},"encoding":{"x":{"datum":0},"x2":{"datum":9750},"y":{"datum":-2},"y2":{"datum":4}}},
  {"data":{"name":"main"},"mark":{"type":"line","interpolate":"monotone","stroke":"#d3d3d3","strokeWidth":3.5,"clip":true},
   "encoding":{"x":{"field":"t","type":"quantitative","scale":{"domain":[0,9750],"range":[41,633],"nice":false,"zero":false},"axis":{"orient":"bottom","values":[0,1000,2000,3000,4000,5000,6000,7000,8000,9000],"title":"Time","titlePadding":-2}},
    "y":{"field":"v","type":"quantitative","scale":{"domain":[-2,4],"nice":false,"zero":false},"axis":{"orient":"left","offset":-41,"values":[-2,0,2],"title":"Value"}},
    "detail":{"field":"s"}}},
  {"data":{"name":"gx"},"mark":{"type":"line","interpolate":"monotone","stroke":"#d3d3d3","strokeWidth":3.5,"clip":true},
   "encoding":{"x":{"field":"t","type":"quantitative"},"y":{"field":"v","type":"quantitative"},"detail":{"field":"g"}}},
  {"data":{"name":"main"},"mark":{"type":"line","interpolate":"monotone","strokeWidth":1.6,"clip":true},
   "encoding":{"x":{"field":"t","type":"quantitative"},"y":{"field":"v","type":"quantitative"},
    "color":{"field":"s","type":"nominal","scale":{"domain":["LA","RA","LL","RL"],"range":["#0072BD","#D95319","#EDB120","#7E2F8E"]},
     "legend":{"orient":"top-right","direction":"horizontal","title":null,"symbolType":"stroke","symbolSize":600,"symbolStrokeWidth":2,"labelFontSize":10,"labelFont":"Liberation Sans","labelColor":"#222","strokeColor":"#888","fillColor":"white","padding":2,"offset":0,"columnPadding":12,"labelExpr":"{'LA':'Left arm','RA':'Right arm','LL':'Left leg','RL':'Right leg'}[datum.label]"}}}},
  {"data":{"name":"ann"},"mark":{"type":"rule","color":"#2b2bd6","strokeWidth":1.2},
   "encoding":{"x":{"field":"ax","type":"quantitative"},"y":{"field":"ay","type":"quantitative"},"x2":{"field":"bx"},"y2":{"field":"by"}}},
  {"data":{"name":"ann"},"mark":{"type":"point","shape":"triangle-down","filled":true,"color":"#2b2bd6","size":22,"opacity":1},
   "encoding":{"x":{"field":"bx","type":"quantitative"},"y":{"field":"by","type":"quantitative"}}},
  {"data":{"name":"ann"},"mark":{"type":"text","color":"#2b2bd6","fontSize":20,"font":"Liberation Sans"},
   "encoding":{"x":{"field":"lx","type":"quantitative"},"y":{"field":"ly","type":"quantitative"},"text":{"field":"label"}}}
 ]},
{"width":644,"height":65,"data":{"values":[{"c":"(a) Fitting result (solid lines) vs. original data stream (gray lines)"}]},
 "mark":{"type":"text","font":"DejaVu Serif","fontSize":18.5,"color":"#111","dy":-2},"encoding":{"text":{"field":"c"}}},
{"width":600,"height":62,
 "resolve":{"scale":{"x":"independent","y":"independent"},"axis":{"x":"independent","y":"independent"}},
 "layer":[
  {"layer":[
   {"data":{"values":[{}]},"mark":{"type":"rect","filled":false,"stroke":"#b0b0b0","strokeWidth":0.8},"encoding":{"x":{"datum":0},"x2":{"datum":5000},"y":{"datum":-2},"y2":{"datum":2.6}}},
   {"data":{"name":"main"},"transform":[{"filter":"datum.t <= 5080"}],"mark":{"type":"line","interpolate":"monotone","stroke":"#d3d3d3","strokeWidth":3.5},
    "encoding":{"x":{"field":"t","type":"quantitative","scale":{"domain":[0,5000],"range":[43,295],"nice":false,"zero":false,"clamp":true},"axis":{"orient":"bottom","values":[1000,2000,3000,4000,5000],"title":"Time","titlePadding":-1,"labelPadding":0}},
     "y":{"field":"v","type":"quantitative","scale":{"domain":[-2,2.6],"nice":false,"zero":false},"axis":{"orient":"left","offset":-43,"values":[-2,0,2],"title":"Value"}},
     "detail":{"field":"s"}}},
   {"data":{"name":"gx"},"transform":[{"filter":"datum.t <= 5000"}],"mark":{"type":"line","interpolate":"monotone","stroke":"#d3d3d3","strokeWidth":3.5},
    "encoding":{"x":{"field":"t","type":"quantitative"},"y":{"field":"v","type":"quantitative"},"detail":{"field":"g"}}},
   {"data":{"name":"main"},"transform":[{"filter":"datum.t <= 5080"}],"mark":{"type":"line","interpolate":"monotone","strokeWidth":1.6},
    "encoding":{"x":{"field":"t","type":"quantitative"},"y":{"field":"v","type":"quantitative"},
     "color":{"field":"s","type":"nominal","scale":{"domain":["LA","RA","LL","RL"],"range":["#0072BD","#D95319","#EDB120","#7E2F8E"]},"legend":null}}},
   {"data":{"values":[{"t":700},{"t":1530},{"t":3050},{"t":3330}]},"mark":{"type":"rule","color":"#444","strokeWidth":0.8},
    "encoding":{"x":{"field":"t","type":"quantitative"}}},
   {"data":{"values":[{"a":4150,"b":4650,"k":"blue"},{"a":4680,"b":5000,"k":"red"}]},"mark":{"type":"rect","filled":false,"strokeWidth":1.6},
    "encoding":{"x":{"field":"a","type":"quantitative"},"x2":{"field":"b"},"stroke":{"field":"k","type":"nominal","scale":{"domain":["blue","red"],"range":["#2f6fd6","#e8453c"]},"legend":null}}},
   {"data":{"values":[{"c":"#1->#3->#2->#4->#5->#3->#1->"}]},"mark":{"type":"text","fontWeight":"bold","fontSize":11,"dy":-8,"color":"#222"},
    "encoding":{"x":{"datum":2500},"y":{"datum":2.6},"text":{"field":"c"}}},
   {"data":{"values":[{"n":"= 5000"}]},"encoding":{"x":{"datum":2500},"y":{"datum":-2}},"layer":[
     {"mark":{"type":"text","text":"t","font":"DejaVu Serif","fontStyle":"italic","fontSize":20,"align":"left","dx":-50,"dy":36,"color":"#111"}},
     {"mark":{"type":"text","text":"c","font":"DejaVu Serif","fontStyle":"italic","fontSize":14,"align":"left","dx":-42,"dy":42,"color":"#111"}},
     {"mark":{"type":"text","font":"DejaVu Serif","fontSize":19,"align":"left","dx":-28,"dy":36,"color":"#111"},"encoding":{"text":{"field":"n"}}}
   ]}
  ]},
  {"layer":[
   {"data":{"values":[{}]},"mark":{"type":"rect","filled":false,"stroke":"#b0b0b0","strokeWidth":0.8},"encoding":{"x":{"datum":5000},"x2":{"datum":9250},"y":{"datum":-2},"y2":{"datum":2.6}}},
   {"data":{"name":"main"},"transform":[{"filter":"datum.t >= 4920 && datum.t <= 9330"}],"mark":{"type":"line","interpolate":"monotone","stroke":"#d3d3d3","strokeWidth":3.5},
    "encoding":{"x":{"field":"t","type":"quantitative","scale":{"domain":[5000,9250],"range":[357,600],"nice":false,"zero":false,"clamp":true},"axis":{"orient":"bottom","values":[5000,6000,7000,8000,9000],"title":"Time","titlePadding":-1,"labelPadding":0}},
     "y":{"field":"v","type":"quantitative","scale":{"domain":[-2,2.6],"nice":false,"zero":false},"axis":{"orient":"left","offset":-357,"values":[-2,0,2],"title":"Value"}},
     "detail":{"field":"s"}}},
   {"data":{"name":"gx"},"transform":[{"filter":"datum.t >= 5000 && datum.t <= 9250"}],"mark":{"type":"line","interpolate":"monotone","stroke":"#d3d3d3","strokeWidth":3.5},
    "encoding":{"x":{"field":"t","type":"quantitative"},"y":{"field":"v","type":"quantitative"},"detail":{"field":"g"}}},
   {"data":{"name":"main"},"transform":[{"filter":"datum.t >= 4920 && datum.t <= 9330"}],"mark":{"type":"line","interpolate":"monotone","strokeWidth":1.6},
    "encoding":{"x":{"field":"t","type":"quantitative"},"y":{"field":"v","type":"quantitative"},
     "color":{"field":"s","type":"nominal","scale":{"domain":["LA","RA","LL","RL"],"range":["#0072BD","#D95319","#EDB120","#7E2F8E"]},"legend":null}}},
   {"data":{"values":[{"t":6550},{"t":7020}]},"mark":{"type":"rule","color":"#444","strokeWidth":0.8},
    "encoding":{"x":{"field":"t","type":"quantitative"}}},
   {"data":{"values":[{"a":8730,"b":8960,"k":"blue"},{"a":8980,"b":9250,"k":"red"}]},"mark":{"type":"rect","filled":false,"strokeWidth":1.6},
    "encoding":{"x":{"field":"a","type":"quantitative"},"x2":{"field":"b"},"stroke":{"field":"k","type":"nominal","scale":{"domain":["blue","red"],"range":["#2f6fd6","#e8453c"]},"legend":null}}},
   {"data":{"values":[{"c":"#1->#3->#2->#4->#3->"}]},"mark":{"type":"text","fontWeight":"bold","fontSize":11,"dy":-8,"color":"#222"},
    "encoding":{"x":{"datum":7125},"y":{"datum":2.6},"text":{"field":"c"}}},
   {"data":{"values":[{"n":"= 9200"}]},"encoding":{"x":{"datum":7125},"y":{"datum":-2}},"layer":[
     {"mark":{"type":"text","text":"t","font":"DejaVu Serif","fontStyle":"italic","fontSize":20,"align":"left","dx":-50,"dy":36,"color":"#111"}},
     {"mark":{"type":"text","text":"c","font":"DejaVu Serif","fontStyle":"italic","fontSize":14,"align":"left","dx":-42,"dy":42,"color":"#111"}},
     {"mark":{"type":"text","font":"DejaVu Serif","fontSize":19,"align":"left","dx":-28,"dy":36,"color":"#111"},"encoding":{"text":{"field":"n"}}}
   ]}
  ]}
 ]},
{"width":644,"height":66,"data":{"values":[{"c":"(b) Snapshots of real-time regime identification and segmentation"}]},
 "mark":{"type":"text","font":"DejaVu Serif","fontSize":18,"color":"#111","dy":21},"encoding":{"text":{"field":"c"}}},
{"width":644,"height":222,
 "resolve":{"scale":{"color":"independent","fill":"independent"}},
 "layer":[
  {"data":{"name":"edges"},"mark":{"type":"line","interpolate":"basis","stroke":"#8c8c8c","strokeWidth":1},
   "encoding":{"x":{"field":"x","type":"quantitative","scale":{"domain":[0,100],"nice":false,"zero":false},"axis":null},
    "y":{"field":"y","type":"quantitative","scale":{"domain":[0,100],"reverse":true,"nice":false,"zero":false},"axis":null},
    "detail":{"field":"e"},"order":{"field":"o"}}},
  {"data":{"name":"nodes"},"mark":{"type":"point","filled":true,"opacity":1,"strokeWidth":0},
   "encoding":{"x":{"field":"x","type":"quantitative"},"y":{"field":"y","type":"quantitative"},
    "size":{"field":"n","type":"quantitative","scale":{"domain":[0,17],"range":[120,1500]},"legend":null},
    "fill":{"field":"st","type":"nominal","scale":{"domain":["none","cur","next"],"range":["#d2d2d2","#f4522d","#a9dde3"]},"legend":null}}},
  {"data":{"name":"nodes"},"mark":{"type":"text","fontSize":4.5,"color":"#333","font":"Liberation Serif"},
   "encoding":{"x":{"field":"x","type":"quantitative"},"y":{"field":"y","type":"quantitative"},"text":{"field":"id"}}},
  {"data":{"name":"elab"},"mark":{"type":"text","fontSize":5.5,"color":"#333","font":"Liberation Serif"},
   "encoding":{"x":{"field":"x","type":"quantitative"},"y":{"field":"y","type":"quantitative"},"text":{"field":"txt"}}},
  {"data":{"name":"glab"},"mark":{"type":"text","fontSize":16,"font":"Liberation Sans"},
   "encoding":{"x":{"field":"x","type":"quantitative"},"y":{"field":"y","type":"quantitative"},"text":{"field":"txt"},
    "color":{"field":"k","type":"nominal","scale":{"domain":["none","cur","next"],"range":["#111111","#e8402a","#2323d4"]},"legend":null}}},
  {"data":{"name":"gtc"},"encoding":{"x":{"field":"x","type":"quantitative"},"y":{"field":"y","type":"quantitative"}},"layer":[
    {"mark":{"type":"text","text":"t","font":"DejaVu Serif","fontStyle":"italic","fontSize":20,"align":"left","dx":-50,"color":"#111"}},
    {"mark":{"type":"text","text":"c","font":"DejaVu Serif","fontStyle":"italic","fontSize":14,"align":"left","dx":-42,"dy":6,"color":"#111"}},
    {"mark":{"type":"text","font":"DejaVu Serif","fontSize":19,"align":"left","dx":-28,"color":"#111"},"encoding":{"text":{"field":"n"}}}
  ]}
 ]},
{"width":644,"height":53,"data":{"values":[{"c":"(c) Snapshots of dynamic space transitions at different time points"}]},
 "mark":{"type":"text","font":"DejaVu Serif","fontSize":18,"color":"#111","dy":-14.5},"encoding":{"text":{"field":"c"}}},
{"width":629,"height":67,
 "resolve":{"scale":{"x":"independent","y":"independent"},"axis":{"x":"independent","y":"independent"}},
 "layer":[
  {"layer":[
   {"data":{"values":[{}]},"mark":{"type":"rect","filled":false,"stroke":"#b0b0b0","strokeWidth":0.8},"encoding":{"x":{"datum":1800},"x2":{"datum":2700},"y":{"datum":-2},"y2":{"datum":3}}},
   {"data":{"name":"fc"},"transform":[{"filter":{"field":"p","equal":"d1"}}],"mark":{"type":"line","interpolate":"monotone","stroke":"#d3d3d3","strokeWidth":4.5},
    "encoding":{"x":{"field":"t","type":"quantitative","scale":{"domain":[1800,2700],"range":[53,187],"nice":false,"zero":false},"axis":{"orient":"bottom","values":[2000,2400],"title":"Time","labelFontSize":10,"titlePadding":0}},
     "y":{"field":"v","type":"quantitative","scale":{"domain":[-2,3],"nice":false,"zero":false},"axis":{"orient":"left","offset":-53,"values":[-2,0,2],"title":"Value","labelFontSize":10}},"detail":{"field":"s"}}},
   {"data":{"name":"fc"},"transform":[{"filter":{"field":"p","equal":"d1"}}],"mark":{"type":"line","interpolate":"monotone","strokeWidth":1.8},
    "encoding":{"x":{"field":"t","type":"quantitative"},"y":{"field":"v","type":"quantitative"},
     "color":{"field":"s","type":"nominal","scale":{"domain":["LA","RA","LL","RL"],"range":["#0072BD","#D95319","#EDB120","#7E2F8E"]},"legend":null}}},
   {"data":{"values":[{"t":1802,"k":"b"},{"t":2300,"k":"b"},{"t":2480,"k":"r"},{"t":2680,"k":"r"}]},"mark":{"type":"rule","strokeWidth":1},
    "encoding":{"x":{"field":"t","type":"quantitative"},"stroke":{"field":"k","type":"nominal","scale":{"domain":["b","r"],"range":["#5a5af0","#f07070"]},"legend":null}}},
   {"data":{"values":[{"t":1810,"k":"b"},{"t":2480,"k":"b"},{"t":2680,"k":"r"}]},"mark":{"type":"point","shape":"triangle-up","filled":true,"size":30,"opacity":1},
    "encoding":{"x":{"field":"t","type":"quantitative"},"y":{"datum":-1.75},"fill":{"field":"k","type":"nominal","scale":{"domain":["b","r"],"range":["#2b2be0","#f03c3c"]},"legend":null}}},
   {"data":{"values":[{"t":1800,"s1":"p","e":"","s2":"","k":"b"},{"t":2095,"s1":"s","e":"","s2":"","k":"b"},{"t":2472,"s1":"c","e":"","s2":"","k":"b"},{"t":2600,"s1":"c","e":"+l","s2":"s","k":"r"}]},
    "encoding":{"x":{"field":"t","type":"quantitative"},"y":{"datum":-2},"fill":{"field":"k","type":"nominal","scale":{"domain":["b","r"],"range":["#2b2be0","#f03c3c"]},"legend":null}},
    "layer":[
     {"mark":{"type":"text","text":"t","fontSize":15,"baseline":"top","align":"left","dy":3}},
     {"mark":{"type":"text","fontSize":11,"baseline":"top","align":"left","dx":4,"dy":10},"encoding":{"text":{"field":"s1"}}},
     {"mark":{"type":"text","fontSize":15,"baseline":"top","align":"left","dx":10,"dy":3},"encoding":{"text":{"field":"e"}}},
     {"mark":{"type":"text","fontSize":11,"baseline":"top","align":"left","dx":22,"dy":10},"encoding":{"text":{"field":"s2"}}}
    ]},
   {"data":{"values":[{"c":"Forecasting result"}]},"mark":{"type":"text","fontWeight":"bold","fontSize":11,"dy":-8,"color":"#222"},
    "encoding":{"x":{"datum":2250},"y":{"datum":3},"text":{"field":"c"}}},
   {"data":{"values":[{"n":"= 2480"}]},"encoding":{"x":{"datum":2250},"y":{"datum":-2}},"layer":[
     {"mark":{"type":"text","text":"t","font":"DejaVu Serif","fontStyle":"italic","fontSize":20,"align":"left","dx":-58,"dy":56,"color":"#111"}},
     {"mark":{"type":"text","text":"c","font":"DejaVu Serif","fontStyle":"italic","fontSize":14,"align":"left","dx":-50,"dy":62,"color":"#111"}},
     {"mark":{"type":"text","font":"DejaVu Serif","fontSize":19,"align":"left","dx":-36,"dy":56,"color":"#111"},"encoding":{"text":{"field":"n"}}}
   ]}
  ]},
  {"layer":[
   {"data":{"values":[{}]},"mark":{"type":"rect","filled":false,"stroke":"#b0b0b0","strokeWidth":0.8},"encoding":{"x":{"datum":5800},"x2":{"datum":6880},"y":{"datum":-2},"y2":{"datum":3}}},
   {"data":{"name":"fc"},"transform":[{"filter":{"field":"p","equal":"d2"}}],"mark":{"type":"line","interpolate":"monotone","stroke":"#d3d3d3","strokeWidth":4.5},
    "encoding":{"x":{"field":"t","type":"quantitative","scale":{"domain":[5800,6880],"range":[267,405],"nice":false,"zero":false},"axis":{"orient":"bottom","values":[6000,6400,6800],"title":"Time","labelFontSize":10,"titlePadding":0}},
     "y":{"field":"v","type":"quantitative","scale":{"domain":[-2,3],"nice":false,"zero":false},"axis":{"orient":"left","offset":-267,"values":[-2,0,2],"title":"Value","labelFontSize":10}},"detail":{"field":"s"}}},
   {"data":{"name":"fc"},"transform":[{"filter":{"field":"p","equal":"d2"}}],"mark":{"type":"line","interpolate":"monotone","strokeWidth":1.8},
    "encoding":{"x":{"field":"t","type":"quantitative"},"y":{"field":"v","type":"quantitative"},
     "color":{"field":"s","type":"nominal","scale":{"domain":["LA","RA","LL","RL"],"range":["#0072BD","#D95319","#EDB120","#7E2F8E"]},"legend":null}}},
   {"data":{"values":[{"t":5803,"k":"b"},{"t":6200,"k":"b"},{"t":6600,"k":"r"},{"t":6800,"k":"r"}]},"mark":{"type":"rule","strokeWidth":1},
    "encoding":{"x":{"field":"t","type":"quantitative"},"stroke":{"field":"k","type":"nominal","scale":{"domain":["b","r"],"range":["#5a5af0","#f07070"]},"legend":null}}},
   {"data":{"values":[{"t":5815,"k":"b"},{"t":6200,"k":"b"},{"t":6600,"k":"b"},{"t":6800,"k":"r"}]},"mark":{"type":"point","shape":"triangle-up","filled":true,"size":30,"opacity":1},
    "encoding":{"x":{"field":"t","type":"quantitative"},"y":{"datum":-1.75},"fill":{"field":"k","type":"nominal","scale":{"domain":["b","r"],"range":["#2b2be0","#f03c3c"]},"legend":null}}},
   {"data":{"values":[{"t":5815,"s1":"p","e":"","s2":"","k":"b"},{"t":6150,"s1":"s","e":"","s2":"","k":"b"},{"t":6570,"s1":"c","e":"","s2":"","k":"b"},{"t":6740,"s1":"c","e":"+l","s2":"s","k":"r"}]},
    "encoding":{"x":{"field":"t","type":"quantitative"},"y":{"datum":-2},"fill":{"field":"k","type":"nominal","scale":{"domain":["b","r"],"range":["#2b2be0","#f03c3c"]},"legend":null}},
    "layer":[
     {"mark":{"type":"text","text":"t","fontSize":15,"baseline":"top","align":"left","dy":3}},
     {"mark":{"type":"text","fontSize":11,"baseline":"top","align":"left","dx":4,"dy":10},"encoding":{"text":{"field":"s1"}}},
     {"mark":{"type":"text","fontSize":15,"baseline":"top","align":"left","dx":10,"dy":3},"encoding":{"text":{"field":"e"}}},
     {"mark":{"type":"text","fontSize":11,"baseline":"top","align":"left","dx":22,"dy":10},"encoding":{"text":{"field":"s2"}}}
    ]},
   {"data":{"values":[{"c":"Forecasting result"}]},"mark":{"type":"text","fontWeight":"bold","fontSize":11,"dy":-8,"color":"#222"},
    "encoding":{"x":{"datum":6340},"y":{"datum":3},"text":{"field":"c"}}},
   {"data":{"values":[{"n":"= 6600"}]},"encoding":{"x":{"datum":6340},"y":{"datum":-2}},"layer":[
     {"mark":{"type":"text","text":"t","font":"DejaVu Serif","fontStyle":"italic","fontSize":20,"align":"left","dx":-58,"dy":56,"color":"#111"}},
     {"mark":{"type":"text","text":"c","font":"DejaVu Serif","fontStyle":"italic","fontSize":14,"align":"left","dx":-50,"dy":62,"color":"#111"}},
     {"mark":{"type":"text","font":"DejaVu Serif","fontSize":19,"align":"left","dx":-36,"dy":56,"color":"#111"},"encoding":{"text":{"field":"n"}}}
   ]}
  ]},
  {"layer":[
   {"data":{"values":[{}]},"mark":{"type":"rect","filled":false,"stroke":"#b0b0b0","strokeWidth":0.8},"encoding":{"x":{"datum":8900},"x2":{"datum":9600},"y":{"datum":-2},"y2":{"datum":3}}},
   {"data":{"name":"fc"},"transform":[{"filter":{"field":"p","equal":"d3"}}],"mark":{"type":"line","interpolate":"monotone","stroke":"#d3d3d3","strokeWidth":4.5},
    "encoding":{"x":{"field":"t","type":"quantitative","scale":{"domain":[8900,9600],"range":[485,629],"nice":false,"zero":false},"axis":{"orient":"bottom","values":[9200],"title":"Time","labelFontSize":10,"titlePadding":0}},
     "y":{"field":"v","type":"quantitative","scale":{"domain":[-2,3],"nice":false,"zero":false},"axis":{"orient":"left","offset":-485,"values":[-2,0,2],"title":"Value","labelFontSize":10}},"detail":{"field":"s"}}},
   {"data":{"name":"fc"},"transform":[{"filter":{"field":"p","equal":"d3"}}],"mark":{"type":"line","interpolate":"monotone","strokeWidth":1.8},
    "encoding":{"x":{"field":"t","type":"quantitative"},"y":{"field":"v","type":"quantitative"},
     "color":{"field":"s","type":"nominal","scale":{"domain":["LA","RA","LL","RL"],"range":["#0072BD","#D95319","#EDB120","#7E2F8E"]},"legend":null}}},
   {"data":{"values":[{"t":8903,"k":"b"},{"t":9320,"k":"r"},{"t":9520,"k":"r"}]},"mark":{"type":"rule","strokeWidth":1},
    "encoding":{"x":{"field":"t","type":"quantitative"},"stroke":{"field":"k","type":"nominal","scale":{"domain":["b","r"],"range":["#5a5af0","#f07070"]},"legend":null}}},
   {"data":{"values":[{"t":8912,"k":"b"},{"t":9320,"k":"b"},{"t":9520,"k":"r"}]},"mark":{"type":"point","shape":"triangle-up","filled":true,"size":30,"opacity":1},
    "encoding":{"x":{"field":"t","type":"quantitative"},"y":{"datum":-1.75},"fill":{"field":"k","type":"nominal","scale":{"domain":["b","r"],"range":["#2b2be0","#f03c3c"]},"legend":null}}},
   {"data":{"values":[{"t":8905,"s1":"s","e":"","s2":"","k":"b"},{"t":9310,"s1":"c","e":"","s2":"","k":"b"},{"t":9465,"s1":"c","e":"+l","s2":"s","k":"r"}]},
    "encoding":{"x":{"field":"t","type":"quantitative"},"y":{"datum":-2},"fill":{"field":"k","type":"nominal","scale":{"domain":["b","r"],"range":["#2b2be0","#f03c3c"]},"legend":null}},
    "layer":[
     {"mark":{"type":"text","text":"t","fontSize":15,"baseline":"top","align":"left","dy":3}},
     {"mark":{"type":"text","fontSize":11,"baseline":"top","align":"left","dx":4,"dy":10},"encoding":{"text":{"field":"s1"}}},
     {"mark":{"type":"text","fontSize":15,"baseline":"top","align":"left","dx":10,"dy":3},"encoding":{"text":{"field":"e"}}},
     {"mark":{"type":"text","fontSize":11,"baseline":"top","align":"left","dx":22,"dy":10},"encoding":{"text":{"field":"s2"}}}
    ]},
   {"data":{"values":[{"c":"Forecasting result"}]},"mark":{"type":"text","fontWeight":"bold","fontSize":11,"dy":-8,"color":"#222"},
    "encoding":{"x":{"datum":9250},"y":{"datum":3},"text":{"field":"c"}}},
   {"data":{"values":[{"n":"= 9320"}]},"encoding":{"x":{"datum":9250},"y":{"datum":-2}},"layer":[
     {"mark":{"type":"text","text":"t","font":"DejaVu Serif","fontStyle":"italic","fontSize":20,"align":"left","dx":-58,"dy":56,"color":"#111"}},
     {"mark":{"type":"text","text":"c","font":"DejaVu Serif","fontStyle":"italic","fontSize":14,"align":"left","dx":-50,"dy":62,"color":"#111"}},
     {"mark":{"type":"text","font":"DejaVu Serif","fontSize":19,"align":"left","dx":-36,"dy":56,"color":"#111"},"encoding":{"text":{"field":"n"}}}
   ]}
  ]}
 ]},
{"width":644,"height":90,"data":{"values":[{"c":"(d) Snapshots of lₛ = 200-steps-ahead future value forecasting"}]},
 "mark":{"type":"text","font":"DejaVu Serif","fontSize":18.5,"color":"#111","dy":32},"encoding":{"text":{"field":"c"}}}
]
}
